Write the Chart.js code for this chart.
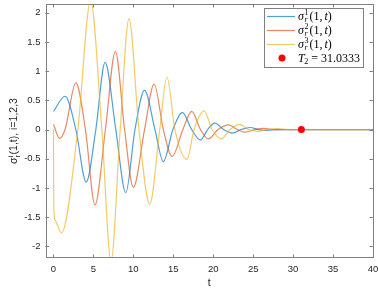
<!DOCTYPE html>
<html><head><meta charset="utf-8">
<script src="https://cdn.jsdelivr.net/npm/chart.js@4/dist/chart.umd.min.js"></script>
<style>html,body{margin:0;padding:0;background:#fff;}canvas{display:block;}</style>
</head><body>
<canvas id="c" width="378" height="289"></canvas>
<script>
// ---- data ----
const s1T = [0, 1.45, 2.8, 4.1, 5.3, 6.46, 7.8, 9.05, 10.2, 11.4, 12.7, 13.75, 14.95, 16.15, 17.3, 18.4, 19.3, 20.2, 21.3, 22.4, 23.5, 24.6, 25.7, 26.8, 28, 40];
const s1V = [0.31, 0.57, 0, -0.9, 0, 1.15, 0, -1.08, 0, 0.67, 0, -0.55, 0, 0.29, 0, -0.18, 0, 0.11, 0, -0.06, 0, 0.035, 0, -0.015, 0, 0];
const s2T = [0, 0.75, 1.45, 2.8, 4.0, 5.2, 6.5, 7.75, 8.9, 10.0, 11.4, 12.6, 13.75, 14.85, 16.2, 17.3, 18.4, 19.4, 20.6, 21.9, 23.0, 24.0, 25.2, 26.3, 27.5, 40];
const s2V = [0.09, -0.15, 0, 0.8, 0, -1.29, 0, 1.34, 0, -0.99, 0, 0.78, 0, -0.46, 0, 0.31, 0, -0.16, 0, 0.08, 0, -0.045, 0, 0.02, 0, 0];
const s3T = [0, 0.03, 0.2, 1.0, 3.05, 4.65, 6.05, 7.2, 8.35, 9.45, 10.7, 12.05, 13.3, 14.2, 15.2, 16.7, 17.6, 18.85, 19.85, 21.0, 22.1, 23.3, 24.4, 25.6, 26.7, 28, 29.5, 40];
const s3V = [0, -1.3, -1.55, -1.77, 0, 2.2, 0, -2.25, 0, 1.9, 0, -1.28, 0, 0.9, 0, -0.51, 0, 0.32, 0, -0.16, 0, 0.09, 0, -0.03, 0, 0.015, 0, 0];
const markT = [31.0333];
const markV = [0];
const xTicks = [0, 5, 10, 15, 20, 25, 30, 35, 40];
const yTicks = [-2, -1.5, -1, -0.5, 0, 0.5, 1, 1.5, 2];
const legendSup = ['1', '2', '3'];
const markLabel = '31.0333';

const colors = ['rgba(0,114,189,0.68)', 'rgba(217,83,25,0.68)', 'rgba(237,177,32,0.68)'];
const pts = (T, V) => T.map((t, i) => ({x: t, y: V[i]}));
const axisCol = '#262626';
const tickFont = {family: '"Liberation Sans", Arial, sans-serif', size: 9.5};

const lineDs = (T, V, col, order) => ({
  data: pts(T, V), borderColor: col, borderWidth: 1.2, pointRadius: 0,
  fill: false, cubicInterpolationMode: 'monotone', order: order
});
const noPad = s => { s.paddingLeft = 0; s.paddingRight = 0; s.paddingTop = 0; s.paddingBottom = 0; };

const decor = {
  id: 'decor',
  afterDraw(chart) {
    const ctx = chart.ctx, a = chart.chartArea, xs = chart.scales.x, ys = chart.scales.y;
    ctx.save();
    // box
    ctx.strokeStyle = '#808080';
    ctx.lineWidth = 1;
    ctx.strokeRect(Math.round(a.left) + 0.5, Math.round(a.top) + 0.5, Math.round(a.right - a.left) - 1, Math.round(a.bottom - a.top) - 1);
    ctx.beginPath();
    const tl = 3.5;
    xTicks.forEach(v => {
      const px = Math.round(xs.getPixelForValue(v)) + 0.5;
      ctx.moveTo(px, a.bottom); ctx.lineTo(px, a.bottom - tl);
      ctx.moveTo(px, a.top); ctx.lineTo(px, a.top + tl);
    });
    yTicks.forEach(v => {
      const py = Math.round(ys.getPixelForValue(v)) + 0.5;
      ctx.moveTo(a.left, py); ctx.lineTo(a.left + tl, py);
      ctx.moveTo(a.right, py); ctx.lineTo(a.right - tl, py);
    });
    ctx.stroke();

    // x title
    ctx.fillStyle = axisCol;
    ctx.font = '10.5px "Liberation Sans", Arial, sans-serif';
    ctx.textAlign = 'center'; ctx.textBaseline = 'alphabetic';
    ctx.fillText('t', (a.left + a.right) / 2, 286);

    // y title (rotated)
    ctx.save();
    const sans = '"Liberation Sans", Arial, sans-serif';
    const parts = [
      {t: 'σ', f: '10.5px ' + sans, dy: 0},
      {t: 'i', f: '7.5px ' + sans, dy: -4.5, sub: 'r'},
      {t: '(1,t), i=1,2,3', f: '10.5px ' + sans, dy: 0}
    ];
    let total = 0;
    parts.forEach(p => { ctx.font = p.f; p.w = ctx.measureText(p.t).width; if (p.sub) { p.w = Math.max(p.w, ctx.measureText(p.sub).width) + 0.5; } total += p.w; });
    ctx.translate(17, (a.top + a.bottom) / 2);
    ctx.rotate(-Math.PI / 2);
    ctx.textAlign = 'left'; ctx.textBaseline = 'alphabetic';
    let cx = -total / 2;
    parts.forEach(p => {
      ctx.font = p.f;
      ctx.fillText(p.t, cx, p.dy);
      if (p.sub) ctx.fillText(p.sub, cx, 2.5);
      cx += p.w;
    });
    ctx.restore();

    // legend
    const lx = 264, ly = 8, lw = 99, lh = 59;
    ctx.fillStyle = '#fff';
    ctx.fillRect(lx, ly, lw, lh);
    ctx.strokeStyle = '#808080';
    ctx.strokeRect(lx + 0.5, ly + 0.5, lw, lh);
    const rows = [16, 30, 44, 58];
    const serif = '"Liberation Serif", "DejaVu Serif", serif';
    ctx.textAlign = 'left'; ctx.textBaseline = 'alphabetic';
    for (let i = 0; i < 3; i++) {
      const y = rows[i];
      ctx.strokeStyle = colors[i]; ctx.lineWidth = 1.2;
      ctx.beginPath(); ctx.moveTo(267, y + 0.5); ctx.lineTo(295, y + 0.5); ctx.stroke();
      ctx.fillStyle = '#000';
      let x = 298;
      ctx.font = 'italic 12px ' + serif; ctx.fillText('σ', x, y + 4); x += ctx.measureText('σ').width + 0.5;
      ctx.font = '8px ' + serif; ctx.fillText(legendSup[i], x, y - 1);
      ctx.font = 'italic 8px ' + serif; ctx.fillText('r', x, y + 6); x += 5;
      ctx.font = '12px ' + serif; ctx.fillText('(1,', x, y + 4); x += ctx.measureText('(1,').width + 2;
      ctx.font = 'italic 12px ' + serif; ctx.fillText('t', x, y + 4); x += ctx.measureText('t').width;
      ctx.font = '12px ' + serif; ctx.fillText(')', x, y + 4);
    }
    // marker row
    const y4 = rows[3];
    ctx.fillStyle = '#ff0000';
    ctx.beginPath(); ctx.arc(282, y4, 3.5, 0, Math.PI * 2); ctx.fill();
    ctx.fillStyle = '#000';
    let x = 298;
    ctx.font = 'italic 12px ' + serif; ctx.fillText('T', x, y4 + 4); x += ctx.measureText('T').width - 0.5;
    ctx.font = '8px ' + serif; ctx.fillText('2', x, y4 + 6); x += 7;
    ctx.font = '12px ' + serif; ctx.fillText('=', x, y4 + 4); x += ctx.measureText('=').width + 3;
    ctx.fillText(markLabel, x, y4 + 4);
    ctx.restore();
  }
};

new Chart(document.getElementById('c'), {
  type: 'line',
  data: {
    datasets: [
      {data: pts(markT, markV), showLine: false, pointRadius: 3.5, pointBackgroundColor: '#ff0000', pointBorderColor: '#ff0000', pointBorderWidth: 0, order: 0},
      lineDs(s3T, s3V, colors[2], 1),
      lineDs(s2T, s2V, colors[1], 2),
      lineDs(s1T, s1V, colors[0], 3)
    ]
  },
  options: {
    responsive: false, animation: false, devicePixelRatio: 1,
    layout: {padding: {left: 0, right: 5, top: 1.5, bottom: 0}},
    plugins: {legend: {display: false}, tooltip: {enabled: false}},
    scales: {
      x: {
        type: 'linear', min: -1, max: 40,
        afterBuildTicks: s => { s.ticks = xTicks.map(v => ({value: v})); },
        afterFit: s => { s.height = 31; noPad(s); },
        grid: {display: false, drawTicks: false}, border: {display: false},
        ticks: {padding: 6, font: tickFont, color: axisCol, maxRotation: 0, autoSkip: false, callback: v => String(v)}
      },
      y: {
        type: 'linear', min: -2.2, max: 2.15,
        afterBuildTicks: s => { s.ticks = yTicks.map(v => ({value: v})); },
        afterFit: s => { s.width = 45.5; noPad(s); },
        grid: {display: false, drawTicks: false}, border: {display: false},
        ticks: {padding: 5, font: tickFont, color: axisCol, autoSkip: false, callback: v => String(v)}
      }
    }
  },
  plugins: [decor]
});
</script>
</body></html>
